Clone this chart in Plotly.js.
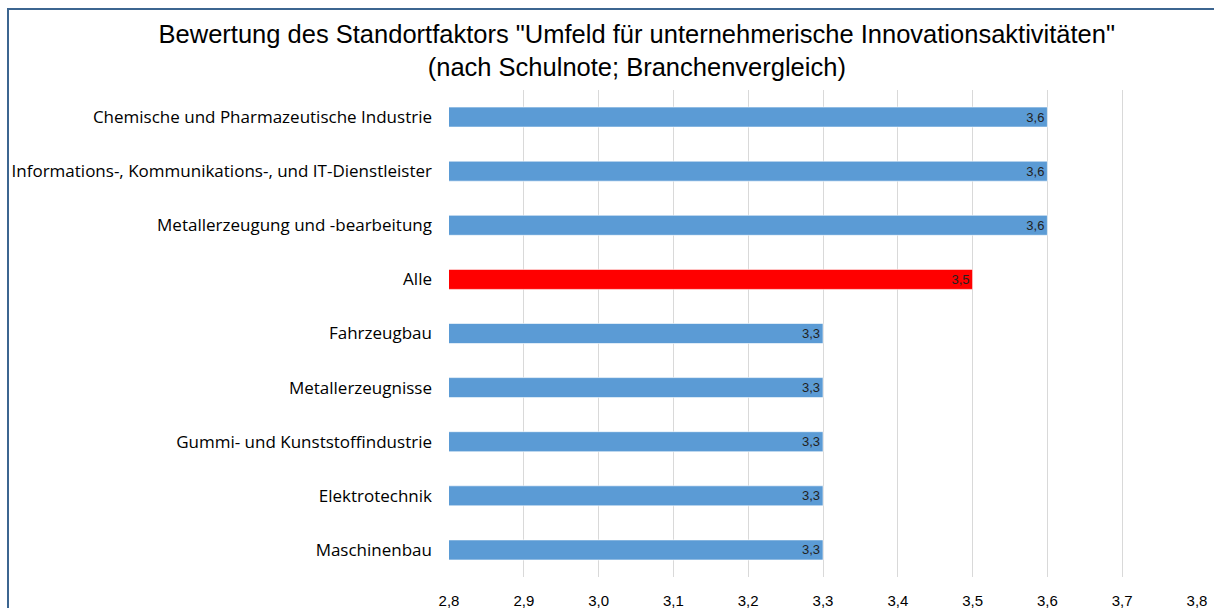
<!DOCTYPE html>
<html>
<head>
<meta charset="utf-8">
<script src="https://cdn.plot.ly/plotly-3.0.1.min.js"></script>
<style>
    body { margin: 0; background: #FFFFFF; }
    #frame {
        position: absolute;
        left: 7px;
        top: 8px;
        width: 1207px;
        height: 600px;
        border-top: 2px solid #3C6590;
        border-left: 2px solid #3C6590;
    }
    #chart { width: 1205px; height: 598px; }
</style>
</head>
<body>
<div id="frame"><div id="chart"></div></div>
<script>
// Branchen (top to bottom) and their Schulnote
const categories = [
    'Chemische und Pharmazeutische Industrie',
    'Informations-, Kommunikations-, und IT-Dienstleister',
    'Metallerzeugung und -bearbeitung',
    'Alle',
    'Fahrzeugbau',
    'Metallerzeugnisse',
    'Gummi- und Kunststoffindustrie',
    'Elektrotechnik',
    'Maschinenbau'
];
const values = [3.6, 3.6, 3.6, 3.5, 3.3, 3.3, 3.3, 3.3, 3.3];
const tickValues = [2.8, 2.9, 3.0, 3.1, 3.2, 3.3, 3.4, 3.5, 3.6, 3.7, 3.8];

const barColors = categories.map(c => c === 'Alle' ? '#FF0000' : '#5B9BD5');

const trace = {
    type: 'bar',
    orientation: 'h',
    y: categories,
    x: values,
    base: 0,
    width: 0.37,
    marker: {
        color: barColors,
        line: { color: 'rgba(255,255,255,0.6)', width: 1 }
    },
    texttemplate: '%{x:.1f}',
    textposition: 'inside',
    insidetextanchor: 'end',
    textangle: 0,
    constraintext: 'none',
    textfont: { family: 'Liberation Sans Narrow, Arial Narrow, sans-serif', size: 13, color: '#222222' },
    hoverinfo: 'skip'
};

const layout = {
    title: {
        text: 'Bewertung des Standortfaktors "Umfeld für unternehmerische Innovationsaktivitäten"<br>(nach Schulnote; Branchenvergleich)',
        font: { family: 'Liberation Sans Narrow, Arial Narrow, sans-serif', size: 25.5, color: '#000000' },
        x: 0.521,
        xref: 'container',
        xanchor: 'center',
        y: 0.945,
        yref: 'container',
        yanchor: 'top'
    },
    separators: ',.',
    xaxis: {
        range: [2.8, 3.8],
        tickvals: tickValues,
        tickformat: '.1f',
        showgrid: true,
        gridcolor: '#D9D9D9',
        gridwidth: 1,
        zeroline: false,
        showline: false,
        ticks: '',
        ticklabelstandoff: 13,
        tickfont: { family: 'Liberation Sans Narrow, Arial Narrow, sans-serif', size: 15, color: '#000000' },
        fixedrange: true
    },
    yaxis: {
        autorange: 'reversed',
        showgrid: false,
        zeroline: false,
        showline: false,
        ticks: '',
        ticklabelstandoff: 16,
        tickfont: { family: 'Open Sans, sans-serif', size: 17, color: '#000000' },
        fixedrange: true
    },
    showlegend: false,
    plot_bgcolor: '#FFFFFF',
    paper_bgcolor: '#FFFFFF',
    margin: { l: 440, r: 17, t: 80, b: 31 },
    width: 1205,
    height: 598
};

const config = { displayModeBar: false, staticPlot: true };

Plotly.newPlot('chart', [trace], layout, config);
</script>
</body>
</html>
